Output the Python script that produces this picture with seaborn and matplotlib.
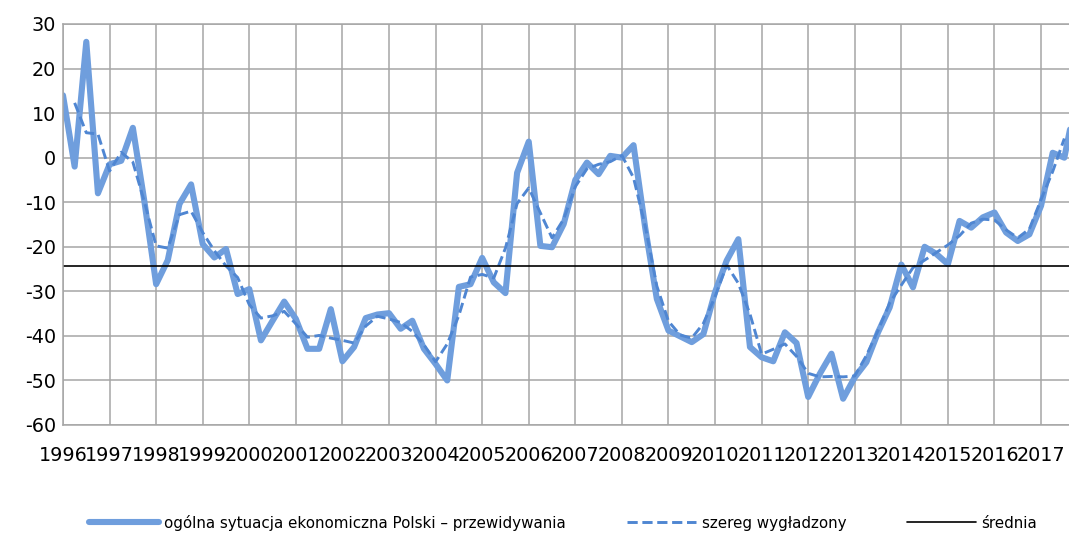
import numpy as np
import pandas as pd
import matplotlib
matplotlib.use("Agg")
import matplotlib.pyplot as plt
import seaborn as sns

# kwartalne dane 1996Q1 - 2017Q4
years = list(range(1996, 2018))
ogolna = [14, -2, 26, -8,
          -1.5, -0.7, 6.7, -10,
          -28.4, -23, -10.4, -6,
          -19.4, -22.4, -20.5, -30.6,
          -29.5, -41, -36.6, -32.3,
          -36.2, -42.9, -42.9, -34,
          -45.7, -42.5, -36, -35.2,
          -34.9, -38.4, -36.6, -42.9,
          -46.3, -50, -29, -28.4,
          -22.5, -28, -30.4, -3.4,
          3.6, -19.8, -20.1, -14.9,
          -5, -1.1, -3.7, 0.4,
          0, 2.8, -15.7, -31.7,
          -38.8, -40.1, -41.4, -39.6,
          -30.2, -23.1, -18.3, -42.5,
          -44.8, -45.7, -39.2, -41.6,
          -53.7, -48.5, -44, -54.1,
          -49.3, -45.9, -39.2, -33.6,
          -24, -29.1, -20, -21.6,
          -23.9, -14.2, -15.7, -13.4,
          -12.3, -16.8, -18.7, -17.2,
          -10.8, 1.1, 0, 13]
wygladzony = [np.nan, 12.3, 5.6, 5.3,
              -3, 1.2, -1, -10,
              -19.8, -20.3, -12.8, -12,
              -16.8, -20.9, -24.3, -26.9,
              -33, -36, -35.5, -34.5,
              -37.3, -40.3, -39.9, -40.5,
              -41, -41.6, -37.8, -35.6,
              -36.2, -37, -39, -42,
              -45.8, -41.8, -35.4, -26.8,
              -26.2, -27, -20.3, -10.3,
              -6.8, -12.4, -18, -13.8,
              -6.5, -2.5, -1.5, -0.9,
              0.5, -4.5, -15.3, -28.8,
              -36.7, -39.8, -40.5, -37.2,
              -31.2, -24.1, -28.2, -35.1,
              -44.1, -43, -41.8, -44.6,
              -48.4, -49.2, -49.1, -49.2,
              -49, -44.4, -38.8, -32.6,
              -28.6, -24.7, -23, -21.3,
              -19.6, -17.5, -14.7, -13.8,
              -14, -16.2, -18, -16,
              -9.4, -3.1, 4.3, np.nan]
srednia = -24.4

df = pd.DataFrame({"kw": np.arange(len(ogolna)), "ogolna": ogolna,
                   "wygladzony": wygladzony})

sns.set_style("white")
plt.rcParams["font.family"] = ["DejaVu Sans"]
plt.rcParams["axes.unicode_minus"] = False

fig = plt.figure(figsize=(10.69, 5.34), dpi=100)
ax = fig.add_axes([63 / 1069, 1 - 425 / 534, 1 - 63 / 1069, (425 - 24) / 534])

sns.lineplot(data=df, x="kw", y="ogolna", ax=ax, color="#6F9EDD", lw=4.4,
             label="ogólna sytuacja ekonomiczna Polski – przewidywania")
sns.lineplot(data=df.dropna(), x="kw", y="wygladzony", ax=ax, color="#4F86D2",
             lw=2.1, dashes=False, label="szereg wygładzony")
ax.lines[-1].set_dashes((3.5, 1.6))
ax.axhline(srednia, color="black", lw=1.2, label="średnia")

ax.set_xlim(0, 86.4)
ax.set_ylim(-60, 30)
ax.set_xticks(np.arange(0, 88, 4))
ax.set_xticklabels([str(y) for y in years])
ax.set_yticks(np.arange(-60, 31, 10))
ax.tick_params(axis="both", length=0, labelsize=13.8, colors="black")
ax.tick_params(axis="x", pad=15)
ax.tick_params(axis="y", pad=5)
ax.set_xlabel("")
ax.set_ylabel("")
ax.grid(True, color="#A6A6A6", lw=1.1)
ax.set_axisbelow(True)
for s in ["left", "bottom", "top"]:
    ax.spines[s].set_color("#A6A6A6")
    ax.spines[s].set_linewidth(1.1)
ax.spines["right"].set_visible(False)

handles, labels = ax.get_legend_handles_labels()
ax.get_legend().remove()
fig.legend(handles, labels, loc="center", bbox_to_anchor=(0.527, 0.021),
           ncol=3, frameon=False, fontsize=10.9, handlelength=4.6,
           handletextpad=0.35, columnspacing=4.0, labelcolor="black")

fig.savefig("out.png", dpi=100)
